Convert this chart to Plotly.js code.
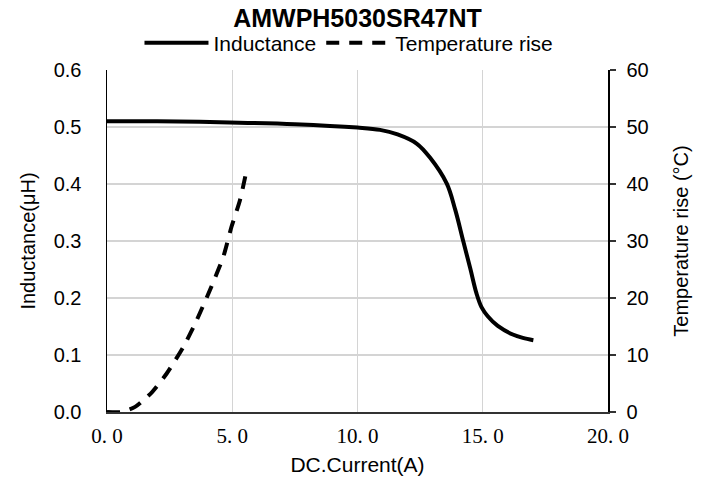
<!DOCTYPE html>
<html><head><meta charset="utf-8">
<script src="https://cdn.plot.ly/plotly-3.0.1.min.js"></script>
<style>body{margin:0;background:#fff}#chart{width:715px;height:480px}</style>
</head><body><div id="chart"></div>
<script>
const indCurrent = [0, 2.0, 4.9, 7.5, 10.0, 10.9, 11.6, 12.36, 12.9, 13.56, 13.9, 14.22, 14.5, 14.75, 14.95, 15.2, 15.6, 16.2, 16.6, 17.02];
const inductance = [0.510, 0.510, 0.508, 0.505, 0.499, 0.495, 0.487, 0.471, 0.446, 0.401, 0.355, 0.300, 0.252, 0.208, 0.184, 0.168, 0.151, 0.136, 0.130, 0.126];
const tempCurrent = [0, 0.58, 1.12, 1.8, 2.39, 3.06, 3.58, 4.11, 4.64, 4.97, 5.31, 5.6];
const tempRise = [0, 0, 0.9, 3.5, 6.8, 11.5, 16.1, 21.4, 27.2, 32.5, 37.2, 43.0];
const xTicks = [0, 5, 10, 15, 20];
const xTickText = ['0. 0', '5. 0', '10. 0', '15. 0', '20. 0'];

const sans = 'Liberation Sans, Arial, sans-serif';
const traces = [
  {x: indCurrent, y: inductance, name: 'Inductance', mode: 'lines', line: {color: '#000', width: 4, shape: 'spline', smoothing: 1}, yaxis: 'y'},
  {x: tempCurrent, y: tempRise, name: 'Temperature rise', mode: 'lines', line: {color: '#000', width: 4, dash: '13px,10px', shape: 'spline', smoothing: 0.6}, yaxis: 'y2'}
];
const layout = {
  width: 715, height: 480,
  margin: {l: 107, r: 107, t: 70, b: 68},
  paper_bgcolor: '#fff', plot_bgcolor: '#fff',
  font: {family: sans, size: 20, color: '#000'},
  title: {text: '<b>AMWPH5030SR47NT</b>', x: 0.5, xanchor: 'center', xref: 'paper', y: 0.9625, yref: 'container', yanchor: 'middle', font: {size: 25, family: sans}},
  showlegend: true,
  legend: {orientation: 'h', x: 0.483, xanchor: 'center', y: 1.079, yanchor: 'middle', font: {size: 21, family: sans}, itemwidth: 64, tracegroupgap: 0, bgcolor: 'rgba(0,0,0,0)'},
  xaxis: {range: [0, 20], tickvals: xTicks, ticktext: xTickText, tickfont: {family: 'Liberation Serif, DejaVu Serif, serif', size: 21},
    ticklabelstandoff: 4,
    showgrid: true, gridcolor: '#d4d4d4', gridwidth: 1.3, zeroline: false, showline: true, linecolor: '#333', linewidth: 1.5,
    ticks: '', title: {text: 'DC.Current(A)', font: {size: 21}, standoff: 10}},
  yaxis: {range: [0, 0.6], dtick: 0.1, tickformat: '.1f', tickfont: {size: 20}, ticklabelstandoff: 20, showgrid: true, gridcolor: '#d4d4d4', gridwidth: 1.3, zeroline: false,
    showline: true, linecolor: '#000', linewidth: 1.5, ticks: '',
    title: {text: 'Inductance(μH)', font: {size: 20}, standoff: 12}},
  yaxis2: {range: [0, 60], dtick: 10, tickfont: {size: 20}, ticklabelstandoff: 7, overlaying: 'y', side: 'right', showgrid: false, zeroline: false,
    showline: true, linecolor: '#000', linewidth: 1.5, ticks: 'outside', ticklen: 6, tickcolor: '#333', tickwidth: 1.3,
    title: {text: 'Temperature rise (°C)', font: {size: 20}, standoff: 26}}
};
Plotly.newPlot('chart', traces, layout, {displayModeBar: false, staticPlot: true});
</script></body></html>
